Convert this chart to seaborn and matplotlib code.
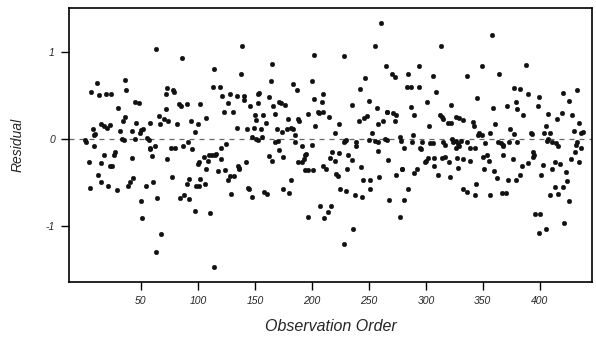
import matplotlib
matplotlib.use("Agg")
import matplotlib.pyplot as plt
import seaborn as sns
import pandas as pd

# Observation order (x) and residual (y)
obs_1 = [36, 11, 37, 6, 13, 19, 24, 45, 30, 36, 34, 46, 15, 18, 20, 23, 8, 10, 9, 32, 42,
         1, 2, 9, 33, 35, 45, 27, 26, 18, 42, 4, 15, 23, 25, 12, 43, 40, 39, 15, 21, 29, 5]
res_1 = [0.68, 0.64, 0.56, 0.54, 0.50, 0.52, 0.51, 0.42, 0.35, 0.25, 0.20, 0.18, 0.17, 0.15,
         0.13, 0.16, 0.11, 0.06, 0.05, 0.09, 0.09, -0.01, -0.04, -0.08, 0.00, -0.01, 0.00,
         -0.15, -0.18, -0.19, -0.22, -0.26, -0.28, -0.31, -0.31, -0.41, -0.45, -0.50, -0.54,
         -0.49, -0.54, -0.59, -0.56]

obs_2 = [63, 86, 73, 72, 78, 79, 83, 85, 90, 48, 72, 66, 70, 74, 67, 82, 94, 100, 58, 50, 52,
         49, 97, 55, 57, 62, 58, 58, 76, 80, 87, 91, 95, 60, 73, 100, 77, 92, 90, 61, 54, 98,
         88, 84, 92, 64, 50, 97, 51, 68, 63]
res_2 = [1.03, 0.93, 0.59, 0.52, 0.56, 0.54, 0.40, 0.38, 0.40, 0.41, 0.34, 0.26, 0.23, 0.21,
         0.17, 0.17, 0.20, 0.17, 0.18, 0.10, 0.11, 0.07, 0.08, 0.01, -0.01, -0.08, -0.11,
         -0.12, -0.10, -0.10, -0.08, -0.04, -0.12, -0.20, -0.23, -0.29, -0.44, -0.46, -0.52,
         -0.49, -0.54, -0.54, -0.65, -0.68, -0.69, -0.68, -0.71, -0.83, -0.91, -1.09, -1.30]

obs_3 = [139, 114, 138, 113, 119, 121, 128, 134, 140, 140, 146, 154, 153, 153, 102, 126, 123,
         131, 107, 150, 157, 151, 134, 143, 149, 155, 147, 151, 153, 156, 125, 120, 110, 112,
         115, 116, 105, 101, 109, 120, 107, 118, 124, 135, 136, 136, 142, 102, 106, 101, 128,
         132, 126, 144, 145, 147, 129, 111, 114]
res_3 = [1.07, 0.80, 0.75, 0.60, 0.60, 0.49, 0.51, 0.49, 0.49, 0.45, 0.38, 0.53, 0.51, 0.41,
         0.40, 0.41, 0.31, 0.31, 0.24, 0.28, 0.27, 0.22, 0.12, 0.11, 0.13, 0.11, 0.02, 0.00,
         -0.01, 0.02, -0.06, -0.11, -0.18, -0.19, -0.18, -0.17, -0.21, -0.27, -0.25, -0.23,
         -0.34, -0.37, -0.36, -0.31, -0.33, -0.34, -0.26, -0.46, -0.52, -0.54, -0.43, -0.43,
         -0.47, -0.56, -0.58, -0.67, -0.63, -0.85, -1.47]

obs_4 = [202, 165, 164, 183, 200, 187, 210, 162, 202, 171, 173, 176, 166, 209, 205, 206, 210,
         197, 168, 179, 188, 189, 160, 203, 169, 174, 178, 182, 183, 185, 168, 170, 185, 200,
         191, 171, 195, 194, 193, 162, 165, 175, 191, 188, 210, 212, 194, 197, 201, 182, 175,
         180, 158, 161, 207, 197, 211, 214]
res_4 = [0.96, 0.86, 0.67, 0.63, 0.67, 0.56, 0.52, 0.48, 0.46, 0.42, 0.41, 0.39, 0.38, 0.42,
         0.31, 0.30, 0.31, 0.29, 0.29, 0.23, 0.23, 0.21, 0.18, 0.15, 0.11, 0.08, 0.11, 0.13,
         0.11, 0.05, -0.03, -0.02, -0.04, -0.07, -0.08, -0.13, -0.17, -0.19, -0.23, -0.20,
         -0.25, -0.21, -0.26, -0.27, -0.31, -0.34, -0.36, -0.36, -0.36, -0.47, -0.57, -0.62,
         -0.61, -0.63, -0.77, -0.90, -0.91, -0.84]

obs_5 = [261, 255, 228, 265, 247, 242, 250, 235, 257, 266, 266, 215, 224, 241, 246, 248, 258,
         262, 253, 220, 228, 229, 230, 239, 239, 250, 255, 258, 264, 266, 218, 224, 258, 216,
         220, 232, 235, 267, 221, 223, 231, 243, 245, 251, 259, 251, 225, 230, 238, 244, 268,
         217, 236, 228]
res_5 = [1.33, 1.07, 0.95, 0.84, 0.70, 0.57, 0.44, 0.39, 0.36, 0.31, 0.31, 0.25, 0.17, 0.21,
         0.24, 0.26, 0.17, 0.21, 0.07, 0.07, -0.04, -0.02, -0.01, -0.03, -0.08, -0.01, -0.02,
         -0.03, 0.00, -0.01, -0.15, -0.16, -0.14, -0.22, -0.25, -0.18, -0.24, -0.24, -0.40,
         -0.43, -0.34, -0.32, -0.47, -0.47, -0.44, -0.57, -0.57, -0.60, -0.64, -0.67, -0.70,
         -0.77, -1.03, -1.21]

obs_6 = [313, 294, 270, 273, 284, 306, 283, 287, 294, 309, 301, 322, 287, 290, 271, 274, 273,
         312, 314, 315, 319, 322, 303, 277, 278, 289, 288, 281, 297, 295, 296, 304, 306, 315,
         317, 323, 324, 300, 302, 299, 307, 307, 314, 317, 320, 279, 279, 292, 290, 274, 311,
         321, 284, 281, 277]
res_6 = [1.07, 0.84, 0.74, 0.71, 0.75, 0.72, 0.60, 0.60, 0.60, 0.54, 0.42, 0.39, 0.37, 0.27,
         0.30, 0.27, 0.21, 0.28, 0.25, 0.23, 0.18, 0.18, 0.15, 0.02, -0.02, 0.04, -0.04, -0.10,
         -0.04, -0.10, -0.12, -0.05, -0.05, -0.04, -0.07, 0.00, -0.03, -0.25, -0.22, -0.27,
         -0.22, -0.31, -0.22, -0.21, -0.27, -0.34, -0.35, -0.34, -0.39, -0.42, -0.42, -0.44,
         -0.57, -0.70, -0.90]

obs_7 = [358, 349, 336, 364, 377, 383, 345, 359, 371, 379, 380, 326, 329, 333, 341, 342, 361,
         374, 377, 347, 349, 346, 356, 331, 336, 326, 328, 352, 363, 366, 368, 368, 373, 380,
         326, 329, 339, 343, 327, 333, 339, 350, 354, 355, 368, 376, 328, 351, 360, 362, 372,
         379, 344, 333, 336, 343, 356, 367, 370]
res_7 = [1.19, 0.84, 0.72, 0.74, 0.58, 0.57, 0.47, 0.36, 0.38, 0.42, 0.34, 0.25, 0.24, 0.22,
         0.19, 0.15, 0.17, 0.11, 0.06, 0.07, 0.04, 0.05, 0.07, -0.02, -0.03, -0.02, -0.06,
         -0.05, -0.04, -0.05, -0.07, -0.08, -0.04, -0.04, -0.11, -0.08, -0.11, -0.11, -0.22,
         -0.23, -0.25, -0.21, -0.19, -0.25, -0.19, -0.23, -0.33, -0.35, -0.37, -0.45, -0.47,
         -0.47, -0.52, -0.57, -0.61, -0.65, -0.65, -0.62, -0.62]

obs_8 = [388, 390, 399, 420, 433, 426, 398, 385, 407, 419, 415, 428, 434, 405, 430, 436, 438,
         392, 393, 404, 409, 406, 407, 411, 414, 416, 433, 432, 436, 431, 394, 395, 394, 427,
         413, 418, 434, 390, 384, 403, 411, 423, 383, 401, 424, 413, 420, 409, 416, 426, 396,
         400, 421, 405, 399]
res_8 = [0.85, 0.51, 0.48, 0.53, 0.56, 0.43, 0.38, 0.28, 0.29, 0.30, 0.23, 0.28, 0.18, 0.15,
         0.09, 0.07, 0.08, 0.07, 0.06, 0.07, 0.07, -0.02, 0.00, -0.04, -0.05, -0.08, -0.04,
         -0.07, -0.11, -0.15, -0.15, -0.18, -0.21, -0.23, -0.26, -0.29, -0.27, -0.28, -0.31,
         -0.30, -0.34, -0.38, -0.41, -0.42, -0.48, -0.55, -0.55, -0.64, -0.63, -0.71, -0.86,
         -0.86, -0.97, -1.04, -1.08]

x_ticks = [50, 100, 150, 200, 250, 300, 350, 400]
y_ticks = [-1, 0, 1]
x_label = "Observation Order"
y_label = "Residual"

obs = obs_1 + obs_2 + obs_3 + obs_4 + obs_5 + obs_6 + obs_7 + obs_8
res = res_1 + res_2 + res_3 + res_4 + res_5 + res_6 + res_7 + res_8
df = pd.DataFrame({"order": obs, "residual": res})

sns.set_style("ticks")
plt.rcParams["font.family"] = ["Liberation Sans", "DejaVu Sans"]

fig = plt.figure(figsize=(5.96, 3.40), dpi=100)
ax = fig.add_axes([0.1166, 0.1715, 0.8764, 0.8041])

ax.axhline(0, color="#666666", linestyle=(0, (4, 4)), linewidth=0.9, zorder=1)
sns.scatterplot(data=df, x="order", y="residual", ax=ax, color="#111111",
                s=11, edgecolor="#111111", linewidth=0.3, zorder=3)

ax.set_xlim(-12.7, 445.6)
ax.set_ylim(-1.64, 1.5)
ax.set_xticks(x_ticks)
ax.set_xticklabels([str(t) for t in x_ticks], fontsize=7.5, style="italic")
ax.set_yticks(y_ticks)
ax.set_yticklabels([str(t) for t in y_ticks], fontsize=7.5, style="italic")
ax.tick_params(axis="both", direction="out", length=5.5, width=1.0, color="black", pad=5)
ax.set_xlabel(x_label, fontsize=11.5, style="italic", labelpad=9)
ax.set_ylabel(y_label, fontsize=10, style="italic", labelpad=15)
for sp in ax.spines.values():
    sp.set_visible(True)
    sp.set_color("black")
    sp.set_linewidth(1.2)

fig.savefig("out.png", dpi=100)
